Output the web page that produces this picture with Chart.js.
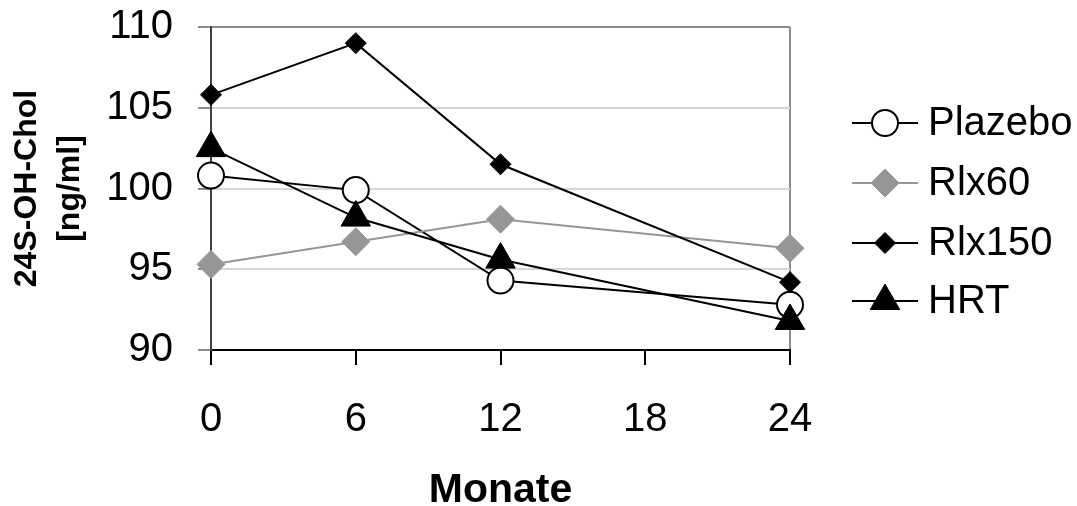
<!DOCTYPE html>
<html>
<head>
<meta charset="utf-8">
<script src="https://cdn.jsdelivr.net/npm/chart.js@4.4.1/dist/chart.umd.min.js"></script>
<style>
  html, body { margin: 0; padding: 0; background: #fff; }
  #wrap { width: 1077px; height: 506px; position: relative; }
</style>
</head>
<body>
<div id="wrap"><canvas id="c" width="1077" height="506"></canvas></div>
<script>
"use strict";

// Monate (x) und Messwerte je Gruppe
const MONTHS = [0, 6, 12, 24];
const PLAZEBO = [100.8, 99.9, 94.3, 92.8];
const RLX60 = [95.3, 96.7, 98.1, 96.3];
const RLX150 = [105.8, 109.0, 101.5, 94.2];
const HRT = [102.5, 98.2, 95.6, 91.8];

const X_TICKS = [0, 6, 12, 18, 24];
const Y_TICKS = [90, 95, 100, 105, 110];

const FONT = "'Liberation Sans', Arial, Helvetica, sans-serif";

function pts(values) {
  return MONTHS.map((m, i) => ({ x: m, y: values[i] }));
}

function series(label, values, opts) {
  return Object.assign(
    {
      label,
      data: pts(values),
      borderWidth: 2,
      pointBorderWidth: 2,
      fill: false,
      tension: 0,
      clip: false,
    },
    opts
  );
}

const datasets = [
  series("Plazebo", PLAZEBO, {
    borderColor: "#000",
    pointStyle: "circle",
    pointRadius: 13,
    pointBackgroundColor: "#fff",
    pointBorderColor: "#000",
    order: 4,
  }),
  series("Rlx60", RLX60, {
    borderColor: "#969696",
    pointStyle: "rectRot",
    pointRadius: 14,
    pointBackgroundColor: "#969696",
    pointBorderColor: "#969696",
    pointBorderWidth: 1,
    order: 3,
  }),
  series("Rlx150", RLX150, {
    borderColor: "#000",
    pointStyle: "rectRot",
    pointRadius: 10.5,
    pointBackgroundColor: "#000",
    pointBorderColor: "#000",
    pointBorderWidth: 1,
    order: 2,
  }),
  series("HRT", HRT, {
    borderColor: "#000",
    pointStyle: "triangle",
    pointRadius: 17,
    pointBackgroundColor: "#000",
    pointBorderColor: "#000",
    pointBorderWidth: 1,
    order: 1,
  }),
];

// Legende rechts: Linie + Marker + Text
const LEGEND_ROWS = [123, 183, 243, 301];
const legendPlugin = {
  id: "sideLegend",
  afterDraw(chart) {
    const ctx = chart.ctx;
    ctx.save();
    chart.data.datasets.forEach((ds, i) => {
      const y = LEGEND_ROWS[i];
      ctx.strokeStyle = ds.borderColor;
      ctx.lineWidth = ds.borderWidth;
      ctx.beginPath();
      ctx.moveTo(852, y);
      ctx.lineTo(918, y);
      ctx.stroke();
      ctx.fillStyle = ds.pointBackgroundColor;
      ctx.strokeStyle = ds.pointBorderColor;
      ctx.lineWidth = ds.pointBorderWidth;
      Chart.helpers.drawPoint(
        ctx,
        {
          pointStyle: ds.pointStyle,
          radius: ds.pointRadius,
          rotation: 0,
          borderWidth: ds.pointBorderWidth,
        },
        885,
        y
      );
      ctx.fillStyle = "#000";
      ctx.font = `40px ${FONT}`;
      ctx.textAlign = "left";
      ctx.textBaseline = "middle";
      ctx.fillText(ds.label, 928, y + 1);
    });
    ctx.restore();
  },
};

new Chart(document.getElementById("c").getContext("2d"), {
  type: "line",
  data: { datasets },
  plugins: [legendPlugin],
  options: {
    responsive: false,
    animation: false,
    layout: { padding: { top: 27, right: 287, left: 0, bottom: 0 } },
    plugins: { legend: { display: false }, tooltip: { enabled: false } },
    scales: {
      x: {
        type: "linear",
        position: "bottom",
        min: 0,
        max: 24,
        afterFit: (s) => { s.height = 156; s.paddingLeft = 0; s.paddingRight = 0; },
        afterBuildTicks: (s) => { s.ticks = X_TICKS.map((v) => ({ value: v })); },
        ticks: {
          color: "#000",
          font: { family: FONT, size: 40 },
          padding: 31,
          maxRotation: 0,
        },
        grid: {
          drawOnChartArea: true,
          color: (c) => (c.tick && c.tick.value === 24 ? "#8c8c8c" : "rgba(0,0,0,0)"),
          tickColor: "#000",
          tickLength: 15,
          tickWidth: 2,
          lineWidth: 2,
        },
        border: { display: true, color: "#000", width: 2 },
        title: {
          display: true,
          text: "Monate",
          color: "#000",
          font: { family: FONT, size: 41, weight: "bold", lineHeight: 0.75 },
          padding: { top: 0, bottom: 0 },
        },
      },
      y: {
        min: 90,
        max: 110,
        afterFit: (s) => { s.width = 211; s.paddingTop = 0; s.paddingBottom = 0; },
        afterBuildTicks: (s) => { s.ticks = Y_TICKS.map((v) => ({ value: v })); },
        ticks: {
          color: "#000",
          font: { family: FONT, size: 40 },
          padding: 25,
        },
        grid: {
          color: (c) => (c.tick && c.tick.value === 110 ? "#8c8c8c" : "#d6d6d6"),
          tickColor: "#8c8c8c",
          tickLength: 13,
          lineWidth: 2,
        },
        border: { display: true, color: "#404040", width: 2 },
        title: {
          display: true,
          text: ["24S-OH-Chol", "[ng/ml]"],
          color: "#000",
          font: { family: FONT, size: 32, weight: "bold", lineHeight: 1.36 },
          padding: { top: 5, bottom: 0 },
        },
      },
    },
  },
});
</script>
</body>
</html>
